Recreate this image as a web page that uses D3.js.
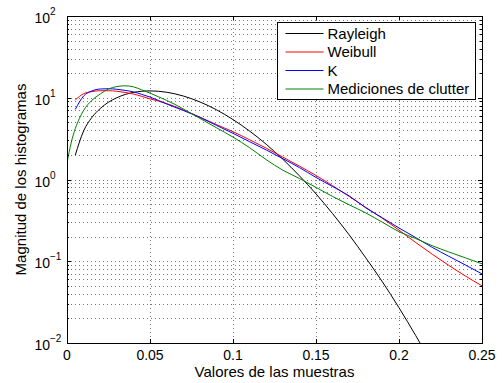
<!DOCTYPE html>
<html>
<head>
<meta charset="utf-8">
<script src="https://cdn.jsdelivr.net/npm/d3@7"></script>
<style>
  body { margin: 0; background: #fff; }
  svg { display: block; font-family: 'Liberation Sans', Arial, sans-serif; }
</style>
</head>
<body>
<div id="graf"></div>
<script>
// !DATOS
const xRayleigh = [0.005, 0.01, 0.015, 0.02, 0.025, 0.03, 0.035, 0.04, 0.045, 0.05, 0.06, 0.07, 0.08, 0.09, 0.1, 0.11, 0.12, 0.13, 0.14, 0.15, 0.16, 0.17, 0.18, 0.19, 0.2, 0.21, 0.22]
const yRayleigh = [1.99, 3.92, 5.74, 7.38, 8.82, 10.0, 10.96, 11.62, 12.0, 12.13, 11.68, 10.51, 8.9, 7.13, 5.41, 3.91, 2.7, 1.77, 1.11, 0.667, 0.382, 0.21, 0.11, 0.056, 0.027, 0.0124, 0.0055]

const xModelos = [0.005, 0.01, 0.015, 0.02, 0.025, 0.03, 0.035, 0.04, 0.045, 0.05, 0.06, 0.07, 0.08, 0.09, 0.1, 0.11, 0.12, 0.13, 0.14, 0.15, 0.16, 0.17, 0.18, 0.19, 0.2, 0.21, 0.22, 0.23, 0.24, 0.25]
const yWeibull = [9.4, 11.2, 11.9, 12.2, 12.2, 12.0, 11.6, 11.1, 10.4, 9.7, 8.5, 7.1, 5.8, 4.7, 3.84, 3.06, 2.42, 1.88, 1.46, 1.12, 0.84, 0.62, 0.455, 0.335, 0.24, 0.17, 0.122, 0.089, 0.066, 0.05]
const yK = [7.2, 10.5, 12.1, 12.8, 12.9, 12.7, 12.3, 11.8, 11.0, 10.2, 8.4, 7.0, 5.75, 4.6, 3.67, 2.9, 2.3, 1.8, 1.4, 1.06, 0.82, 0.63, 0.45, 0.34, 0.255, 0.195, 0.148, 0.115, 0.09, 0.07]

const xMedido = [0, 0.0025, 0.005, 0.0075, 0.01, 0.015, 0.02, 0.025, 0.03, 0.035, 0.04, 0.045, 0.05, 0.055, 0.06, 0.065, 0.07, 0.075, 0.08, 0.09, 0.1, 0.11, 0.12, 0.13, 0.14, 0.15, 0.16, 0.17, 0.18, 0.19, 0.2, 0.21, 0.22, 0.23, 0.24, 0.25]
const yMedido = [1.6, 2.8, 4.2, 5.6, 7.0, 9.3, 11.1, 12.8, 13.7, 14.0, 13.6, 12.5, 11.4, 10.3, 9.3, 8.3, 7.3, 6.4, 5.6, 4.3, 3.3, 2.45, 1.75, 1.3, 1.03, 0.8, 0.62, 0.49, 0.39, 0.3, 0.23, 0.19, 0.155, 0.13, 0.11, 0.093]

const nombres = ['Rayleigh', 'Weibull', 'K', 'Mediciones de clutter']
const colores = ['#000000', '#ff0000', '#0000ff', '#008000']

const ticksX = [0, 0.05, 0.1, 0.15, 0.2, 0.25]
const etiquetasX = ['0', '0.05', '0.1', '0.15', '0.2', '0.25']
const exponentesY = [-2, -1, 0, 1, 2]

const series = [
  { xs: xRayleigh, ys: yRayleigh },
  { xs: xModelos, ys: yWeibull },
  { xs: xModelos, ys: yK },
  { xs: xMedido, ys: yMedido },
]

// !DIMENSIONES
const anchoTotal = 503
const altoTotal = 383
const margin = { top: 16, bottom: 40, left: 67, right: 21 }
const ancho = anchoTotal - margin.left - margin.right
const alto = altoTotal - margin.top - margin.bottom

const svg = d3
  .select('#graf')
  .append('svg')
  .attr('width', anchoTotal)
  .attr('height', altoTotal)

const g = svg
  .append('g')
  .attr('transform', `translate(${margin.left}, ${margin.top})`)

// !ESCALADORES
const x = d3.scaleLinear().domain([0, 0.25]).range([0, ancho])
const y = d3.scaleLog().domain([0.01, 100]).range([alto, 0])

// valores de la rejilla menor (2..9 en cada decada)
const menores = []
exponentesY.slice(0, -1).forEach((e) => {
  for (let k = 2; k <= 9; k++) menores.push(k * Math.pow(10, e))
})
const mayores = exponentesY.map((e) => Math.pow(10, e))

// !REJILLA
const rejilla = g.append('g').attr('stroke', '#777').attr('stroke-width', 1).attr('stroke-dasharray', '1,3')

rejilla
  .selectAll('.gy')
  .data(menores.concat(mayores.slice(1, -1)))
  .join('line')
  .attr('x1', 0)
  .attr('x2', ancho)
  .attr('y1', (d) => Math.round(y(d)) + 0.5)
  .attr('y2', (d) => Math.round(y(d)) + 0.5)

rejilla
  .selectAll('.gx')
  .data(ticksX.slice(1, -1))
  .join('line')
  .attr('y1', 0)
  .attr('y2', alto)
  .attr('x1', (d) => Math.round(x(d)) + 0.5)
  .attr('x2', (d) => Math.round(x(d)) + 0.5)

// !CURVAS
g.append('clipPath')
  .attr('id', 'recorte')
  .append('rect')
  .attr('width', ancho)
  .attr('height', alto)

const linea = d3
  .line()
  .x((d) => x(d[0]))
  .y((d) => y(d[1]))
  .curve(d3.curveMonotoneX)

g.append('g')
  .attr('clip-path', 'url(#recorte)')
  .selectAll('path')
  .data(series)
  .join('path')
  .attr('fill', 'none')
  .attr('stroke', (d, i) => colores[i])
  .attr('stroke-width', 1)
  .attr('d', (d) => linea(d3.zip(d.xs, d.ys)))

// !EJES (caja + ticks hacia dentro)
const ejes = g.append('g').attr('stroke', '#000').attr('stroke-width', 1)

ejes
  .append('rect')
  .attr('x', 0.5)
  .attr('y', 0.5)
  .attr('width', ancho)
  .attr('height', alto)
  .attr('fill', 'none')

ticksX.forEach((t) => {
  const px = Math.round(x(t)) + 0.5
  ejes.append('line').attr('x1', px).attr('x2', px).attr('y1', alto).attr('y2', alto - 4)
  ejes.append('line').attr('x1', px).attr('x2', px).attr('y1', 0).attr('y2', 4)
})

mayores.forEach((t) => {
  const py = Math.round(y(t)) + 0.5
  ejes.append('line').attr('x1', 0).attr('x2', 4).attr('y1', py).attr('y2', py)
  ejes.append('line').attr('x1', ancho).attr('x2', ancho - 4).attr('y1', py).attr('y2', py)
})

menores.forEach((t) => {
  const py = Math.round(y(t)) + 0.5
  ejes.append('line').attr('x1', 0).attr('x2', 2).attr('y1', py).attr('y2', py)
  ejes.append('line').attr('x1', ancho).attr('x2', ancho - 2).attr('y1', py).attr('y2', py)
})

// etiquetas X
g.append('g')
  .selectAll('text')
  .data(ticksX)
  .join('text')
  .attr('x', (d) => x(d))
  .attr('y', alto + 17)
  .attr('text-anchor', 'middle')
  .attr('font-size', 14)
  .text((d, i) => etiquetasX[i])

// etiquetas Y (10 con exponente)
const etY = g
  .append('g')
  .selectAll('g')
  .data(exponentesY)
  .join('g')
  .attr('transform', (d) => `translate(-17, ${y(Math.pow(10, d))})`)

etY.append('text')
  .attr('y', 7)
  .attr('text-anchor', 'end')
  .attr('font-size', 14)
  .text('10')

etY.append('text')
  .attr('y', -1)
  .attr('text-anchor', 'start')
  .attr('font-size', 10)
  .text((d) => (d < 0 ? '\u2212' + Math.abs(d) : d))

// titulos de ejes
svg.append('text')
  .attr('x', margin.left + ancho / 2)
  .attr('y', 377)
  .attr('text-anchor', 'middle')
  .attr('font-size', 15)
  .text('Valores de las muestras')

svg.append('text')
  .attr('transform', `translate(26, ${margin.top + alto / 2}) rotate(-90)`)
  .attr('text-anchor', 'middle')
  .attr('font-size', 15)
  .text('Magnitud de los histogramas')

// !LEYENDA
const leyenda = svg.append('g').attr('transform', 'translate(277.5, 22.5)')

leyenda.append('rect')
  .attr('width', 198)
  .attr('height', 77)
  .attr('fill', '#fff')
  .attr('stroke', '#000')

const items = leyenda
  .selectAll('.item')
  .data(nombres)
  .join('g')
  .attr('transform', (d, i) => `translate(0, ${11 + i * 18.5})`)

items.append('line')
  .attr('x1', 8)
  .attr('x2', 46)
  .attr('stroke', (d, i) => colores[i])

items.append('text')
  .attr('x', 50)
  .attr('y', 5)
  .attr('font-size', 15)
  .text((d) => d)
</script>
</body>
</html>
